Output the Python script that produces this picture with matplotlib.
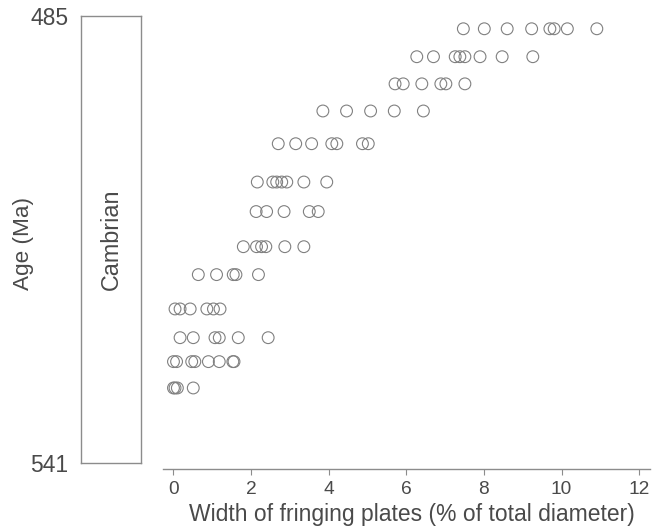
import matplotlib
matplotlib.use("Agg")
import matplotlib.pyplot as plt
import numpy as np

plt.rcParams['font.family'] = ['Liberation Sans', 'DejaVu Sans']

# ---- data ----
row_ages = [486.6, 490.1, 493.5, 496.9, 501.0, 505.8, 509.5,
            513.9, 517.4, 521.7, 525.3, 528.3, 531.6]
row_widths = [
    [7.47, 8.01, 8.60, 9.23, 9.70, 9.81, 10.15, 10.91],
    [6.27, 6.70, 7.26, 7.38, 7.51, 7.90, 8.47, 9.26],
    [5.71, 5.92, 6.40, 6.89, 7.02, 7.51],
    [3.85, 4.46, 5.08, 5.69, 6.44],
    [2.70, 3.15, 3.56, 4.08, 4.21, 4.87, 5.02],
    [2.16, 2.56, 2.66, 2.79, 2.92, 3.36, 3.95],
    [2.13, 2.40, 2.85, 3.50, 3.73],
    [1.80, 2.14, 2.27, 2.38, 2.87, 3.36],
    [0.64, 1.11, 1.54, 1.61, 2.19],
    [0.04, 0.17, 0.43, 0.86, 1.03, 1.20],
    [0.17, 0.51, 1.07, 1.18, 1.67, 2.44],
    [0.00, 0.08, 0.47, 0.55, 0.90, 1.18, 1.53, 1.56],
    [0.00, 0.04, 0.10, 0.51],
]
period_label = "Cambrian"
age_ticks = [485, 541]
x_ticks = [0, 2, 4, 6, 8, 10, 12]
x_label = "Width of fringing plates (% of total diameter)"
y_label = "Age (Ma)"

ages = np.concatenate([[a] * len(w) for a, w in zip(row_ages, row_widths)])
widths = np.concatenate(row_widths)

# ---- figure ----
W, H = 653, 531
fig = plt.figure(figsize=(W / 100, H / 100), dpi=100)

def px_axes(x0, y0, x1, y1):
    return fig.add_axes([x0 / W, 1 - y1 / H, (x1 - x0) / W, (y1 - y0) / H])

line_col = '#8c8c8c'
text_col = '#4a4a4a'

# period box
axb = px_axes(81, 16, 141, 463)
axb.set_ylim(541, 485)
axb.set_xlim(0, 1)
axb.set_xticks([])
axb.set_yticks(age_ticks)
axb.set_yticklabels([str(t) for t in age_ticks])
axb.tick_params(axis='y', length=0, pad=9, labelsize=16.5, labelcolor=text_col)
for s in axb.spines.values():
    s.set_color(line_col)
    s.set_linewidth(1.0)
axb.text(0.5, 0.5, period_label, rotation=90, ha='center', va='center',
         transform=axb.transAxes, fontsize=16.8, color=text_col)

# scatter
axm = px_axes(163, 16, 650, 463)
axm.set_ylim(541, 485)
axm.set_xlim(-0.27, 12.28)
axm.scatter(widths, ages, s=72, facecolors='none', edgecolors='#808080',
            linewidths=0.8, clip_on=False)
for side in ['top', 'right', 'left']:
    axm.spines[side].set_visible(False)
axm.spines['bottom'].set_position(('outward', 4))
axm.spines['bottom'].set_color(line_col)
axm.spines['bottom'].set_linewidth(1.0)
axm.set_yticks([])
axm.set_xticks(x_ticks)
axm.set_xticklabels([str(t) for t in x_ticks])
axm.tick_params(axis='x', length=4, width=0.8, color=line_col, pad=5,
                labelsize=13.8, labelcolor=text_col)
axm.patch.set_alpha(0)

fig.text(412 / W, 1 - 521.5 / H, x_label, ha='center', va='baseline',
         fontsize=16.5, color=text_col)
fig.text(23 / W, 1 - 243 / H, y_label, ha='center', va='center',
         rotation=90, fontsize=16.2, color=text_col)

fig.savefig("out.png", dpi=100)
